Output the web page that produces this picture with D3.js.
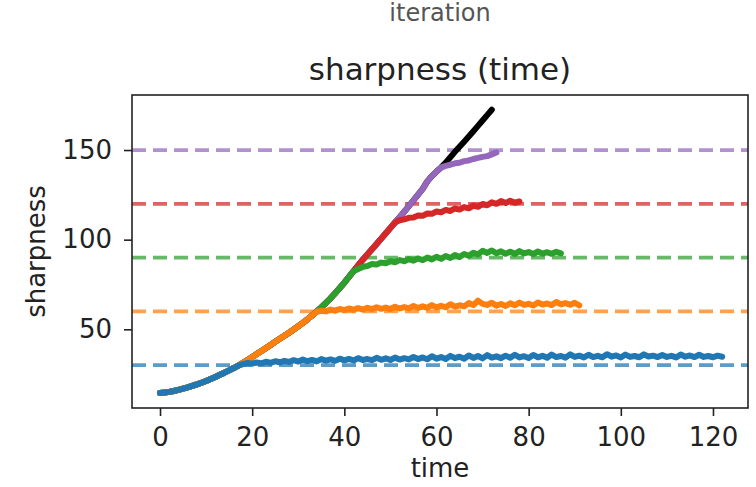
<!DOCTYPE html>
<html>
<head>
<meta charset="utf-8">
<script src="https://cdn.jsdelivr.net/npm/d3@7"></script>
<style>
  html, body { margin: 0; padding: 0; background: #fff; }
  svg { display: block; }
  text { font-family: "DejaVu Sans", sans-serif; }
</style>
</head>
<body>
<svg id="chart" width="756" height="487"></svg>
<script>
// ---- data ----
const xTicks = [0, 20, 40, 60, 80, 100, 120];
const yTicks = [50, 100, 150];
const thresholds = [30, 60, 90, 120, 150];
const thresholdColors = ["#1f77b4", "#ff7f0e", "#2ca02c", "#d62728", "#9467bd"];

// common sharpening trajectory, t = 0, 1, 2, ...
const ramp = [14.5, 14.7, 15.1, 15.6, 16.2, 16.9, 17.6, 18.4, 19.3, 20.2,
  21.2, 22.3, 23.4, 24.6, 25.8, 27.1, 28.4, 29.8, 31.3, 32.9,
  34.5, 36.2, 37.9, 39.6, 41.3, 43.0, 44.7, 46.4, 48.1, 49.9,
  51.7, 53.6, 55.6, 57.7, 59.9, 62.2, 64.7, 67.3, 70.1, 73.0,
  76.0, 79.2, 82.4, 85.6, 88.8, 91.8, 94.7, 97.6, 100.6, 103.6,
  106.6, 109.6, 112.6, 115.6, 118.7, 121.9, 125.1, 128.3, 132.5, 135.5,
  138.0, 140.3];

// per-run tails after leaving the common trajectory (t = tailStart, tailStart+1, ...)
const blueTailStart = 18;
const blueTail = [30.6, 31.2, 30.8, 31.5, 31.0, 31.9, 31.3, 32.2, 31.6, 32.4,
  31.8, 32.8, 32.0, 33.1, 32.2, 32.9, 32.1, 33.4, 32.5, 33.2,
  32.4, 33.6, 32.7, 33.5, 32.6, 33.9, 32.9, 33.4, 32.8, 34.1,
  33.0, 33.8, 32.9, 34.2, 33.1, 33.9, 33.2, 34.6, 33.4, 34.3,
  33.3, 35.0, 33.6, 34.5, 33.4, 35.2, 33.9, 34.7, 33.6, 35.4,
  34.0, 35.1, 33.8, 35.6, 34.2, 34.9, 33.9, 35.3, 34.1, 35.8,
  34.3, 35.0, 34.0, 35.7, 34.4, 35.2, 34.1, 35.9, 34.5, 35.1,
  34.2, 36.0, 34.6, 35.3, 34.3, 35.8, 34.5, 35.2, 34.4, 36.1,
  34.7, 35.4, 34.3, 35.9, 34.6, 35.1, 34.4, 36.0, 34.8, 35.3,
  34.5, 35.7, 34.6, 35.2, 34.3, 35.9, 34.7, 35.4, 34.5, 35.8,
  34.6, 35.1, 34.4, 35.3, 34.7];

const orangeTailStart = 34;
const orangeTail = [59.8, 60.3, 60.0, 61.0, 60.4, 61.3, 60.7, 61.6, 60.9, 61.8,
  61.0, 62.0, 61.2, 62.3, 61.4, 62.1, 61.3, 62.6, 61.6, 62.4,
  61.7, 63.0, 61.9, 62.8, 62.0, 63.5, 62.2, 63.1, 62.3, 64.0,
  62.6, 63.4, 62.8, 64.6, 63.5, 66.0, 64.2, 63.6, 64.8, 63.2,
  64.1, 63.0, 64.5, 63.4, 64.9, 63.6, 64.2, 63.3, 65.0, 63.8,
  64.4, 63.5, 65.2, 64.0, 64.6, 63.7, 64.8, 63.4];

const greenTailStart = 43;
const greenTail = [83.6, 84.8, 85.3, 86.4, 86.1, 87.2, 86.8, 88.0, 87.4, 88.6,
  88.0, 89.1, 88.3, 89.5, 88.6, 90.0, 89.0, 90.4, 89.3, 90.9,
  89.8, 91.4, 90.3, 92.0, 91.0, 92.7, 91.8, 93.8, 92.6, 94.0,
  92.4, 93.5, 92.1, 93.3, 92.0, 93.6, 92.3, 93.1, 92.0, 93.4,
  92.2, 93.0, 92.1, 93.2, 92.4];

const redTailStart = 52;
const redTail = [110.8, 111.3, 112.2, 112.4, 113.5, 113.3, 114.6, 114.4, 115.7, 115.3,
  116.6, 116.0, 117.4, 116.8, 118.2, 117.5, 119.0, 118.3, 119.9, 119.2,
  120.8, 120.0, 121.5, 120.4, 121.7, 120.6, 121.3];

const purpleTailStart = 62;
const purpleTail = [141.2, 141.8, 142.6, 142.9, 143.8, 144.2, 145.0, 145.6, 146.2, 146.6,
  147.6, 148.6];

const blackTailStart = 62;
const blackTail = [143.0, 146.0, 149.0, 151.8, 154.6, 157.5, 160.5, 163.5, 166.5, 169.5, 172.5];

// drawing order: bottom first
const runs = [
  { color: "#000000", tailStart: blackTailStart, tail: blackTail },
  { color: "#9467bd", tailStart: purpleTailStart, tail: purpleTail },
  { color: "#d62728", tailStart: redTailStart, tail: redTail },
  { color: "#2ca02c", tailStart: greenTailStart, tail: greenTail },
  { color: "#ff7f0e", tailStart: orangeTailStart, tail: orangeTail },
  { color: "#1f77b4", tailStart: blueTailStart, tail: blueTail }
];

// ---- layout ----
const svg = d3.select("#chart");
const pLeft = 132, pRight = 748, pTop = 95, pBottom = 408;

const x = d3.scaleLinear().domain([-6.08, 127.6]).range([pLeft, pRight]);
const y = d3.scaleLinear().domain([6.1, 180.7]).range([pBottom, pTop]);

// partial label from the panel above
svg.append("text")
  .attr("x", 440).attr("y", 21)
  .attr("text-anchor", "middle")
  .attr("font-size", 24)
  .attr("fill", "#555")
  .text("iteration");

// title
svg.append("text")
  .attr("x", (pLeft + pRight) / 2).attr("y", 80)
  .attr("text-anchor", "middle")
  .attr("font-size", 31)
  .attr("fill", "#222")
  .text("sharpness (time)");

svg.append("clipPath").attr("id", "plotclip")
  .append("rect").attr("x", pLeft).attr("y", pTop)
  .attr("width", pRight - pLeft).attr("height", pBottom - pTop);

const plot = svg.append("g").attr("clip-path", "url(#plotclip)");

// dashed thresholds
plot.selectAll("line.thr")
  .data(thresholds)
  .enter().append("line")
  .attr("class", "thr")
  .attr("x1", pLeft).attr("x2", pRight)
  .attr("y1", d => y(d)).attr("y2", d => y(d))
  .attr("stroke", (d, i) => thresholdColors[i])
  .attr("stroke-width", 3.8)
  .attr("stroke-dasharray", "14,7")
  .attr("opacity", 0.72);

// curves
const line = d3.line().x(d => x(d[0])).y(d => y(d[1]));
runs.forEach(r => {
  const pts = [];
  for (let t = 0; t < r.tailStart && t < ramp.length; t++) pts.push([t, ramp[t]]);
  r.tail.forEach((v, i) => pts.push([r.tailStart + i, v]));
  plot.append("path")
    .datum(pts)
    .attr("d", line)
    .attr("fill", "none")
    .attr("stroke", r.color)
    .attr("stroke-width", 6)
    .attr("stroke-linejoin", "round")
    .attr("stroke-linecap", "round");
});

// axes
const xAxis = d3.axisBottom(x).tickValues(xTicks).tickSize(8).tickPadding(12).tickSizeOuter(0);
const yAxis = d3.axisLeft(y).tickValues(yTicks).tickSize(8).tickPadding(12).tickSizeOuter(0);

const gx = svg.append("g").attr("transform", `translate(0,${pBottom})`).call(xAxis);
const gy = svg.append("g").attr("transform", `translate(${pLeft},0)`).call(yAxis);
[gx, gy].forEach(g => {
  g.select(".domain").remove();
  g.selectAll(".tick line").attr("stroke", "#222").attr("stroke-width", 1.6);
  g.selectAll(".tick text").attr("font-size", 26).attr("fill", "#222")
    .attr("font-family", "DejaVu Sans, sans-serif");
});

// frame
svg.append("rect")
  .attr("x", pLeft).attr("y", pTop)
  .attr("width", pRight - pLeft).attr("height", pBottom - pTop)
  .attr("fill", "none").attr("stroke", "#222").attr("stroke-width", 1.6);

// axis labels
svg.append("text")
  .attr("x", (pLeft + pRight) / 2).attr("y", 477)
  .attr("text-anchor", "middle")
  .attr("font-size", 26).attr("fill", "#222")
  .text("time");

svg.append("text")
  .attr("transform", `translate(45,${(pTop + pBottom) / 2}) rotate(-90)`)
  .attr("text-anchor", "middle")
  .attr("font-size", 26).attr("fill", "#222")
  .text("sharpness");
</script>
</body>
</html>
